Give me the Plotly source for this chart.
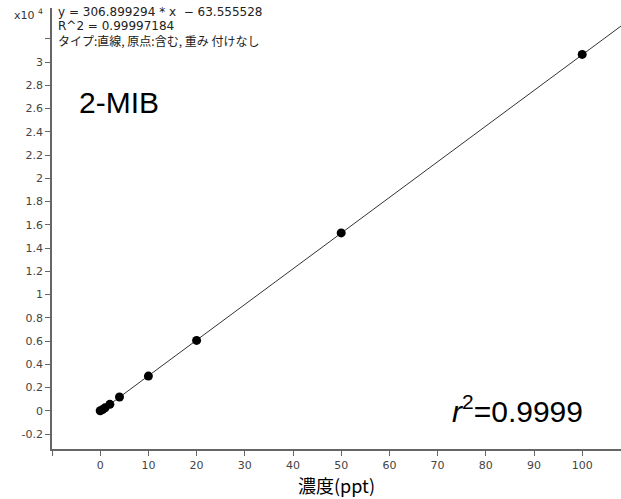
import plotly.graph_objects as go

# calibration data (concentration ppt, response x10^4)
conc = [0, 0.5, 1, 2, 4, 10, 20, 50, 100]
resp = [0.0, 0.010, 0.025, 0.055, 0.118, 0.298, 0.605, 1.530, 3.066]

fit_x = [0, 110]
fit_y = [-0.0064, 3.3695]

x_ticks = [0, 10, 20, 30, 40, 50, 60, 70, 80, 90, 100]
x_tick_text = ["0", "10", "20", "30", "40", "50", "60", "70", "80", "90", "100"]
x_unlabeled = [-10]
y_ticks = [-0.2, 0, 0.2, 0.4, 0.6, 0.8, 1, 1.2, 1.4, 1.6, 1.8, 2, 2.2, 2.4, 2.6, 2.8, 3]
y_tick_text = ["-0.2", "0", "0.2", "0.4", "0.6", "0.8", "1", "1.2", "1.4", "1.6", "1.8",
               "2", "2.2", "2.4", "2.6", "2.8", "3"]
y_unlabeled = [3.2]

eq_lines = ["y = 306.899294 * x  − 63.555528", "R^2 = 0.99997184", "タイプ:直線, 原点:含む, 重み 付けなし"]

fig = go.Figure()
fig.add_trace(go.Scatter(x=fit_x, y=fit_y, mode="lines",
                         line=dict(color="#333333", width=1), showlegend=False, hoverinfo="skip"))
fig.add_trace(go.Scatter(x=conc, y=resp, mode="markers",
                         marker=dict(color="black", size=9), showlegend=False))

fig.update_layout(
    width=621, height=499,
    margin=dict(l=52, r=0, t=8, b=50),
    paper_bgcolor="white", plot_bgcolor="white",
    font=dict(family="DejaVu Sans, sans-serif", size=11, color="#444444"),
    xaxis=dict(range=[-10, 108.05], tickvals=x_ticks, ticktext=x_tick_text,
               showgrid=False, zeroline=False, showline=True, linecolor="#666666", linewidth=1.5,
               ticks="outside", ticklen=5, tickcolor="#666666",
               minor=dict(tickvals=x_unlabeled, ticks="outside", ticklen=5, tickcolor="#666666",
                          showgrid=False),
               title=dict(text="濃度(ppt)", font=dict(family="Noto Sans CJK JP", size=18, color="black"),
                          standoff=4)),
    yaxis=dict(range=[-0.329, 3.465], tickvals=y_ticks, ticktext=y_tick_text,
               showgrid=False, zeroline=False, showline=True, linecolor="#666666", linewidth=1.5,
               ticks="outside", ticklen=5, tickcolor="#666666",
               minor=dict(tickvals=y_unlabeled, ticks="outside", ticklen=5, tickcolor="#666666",
                          showgrid=False)),
)

ann_fonts = [dict(family="DejaVu Sans", size=12, color="#222222"),
             dict(family="DejaVu Sans", size=12, color="#222222"),
             dict(family="Noto Sans CJK JP", size=12, color="#222222")]
for i, t in enumerate(eq_lines):
    fig.add_annotation(xref="paper", yref="paper", x=0.008, y=1.0, yshift=-4 - 14 * i,
                       text=t, showarrow=False, xanchor="left", yanchor="middle", font=ann_fonts[i],
                       borderpad=0)

fig.add_annotation(xref="paper", yref="paper", x=-0.012, y=1.0, yshift=-6, text="x10 <sup>4</sup>",
                   showarrow=False, xanchor="right", yanchor="middle",
                   font=dict(family="DejaVu Sans", size=11, color="#333333"))

fig.add_annotation(xref="paper", yref="paper", x=0.044, y=0.785, text="2-MIB", showarrow=False,
                   xanchor="left", yanchor="middle",
                   font=dict(family="Liberation Sans, Arial", size=30, color="black"))

fig.add_annotation(xref="paper", yref="paper", x=0.937, y=0.09, text="<i>r</i><sup>2</sup>=0.9999",
                   showarrow=False, xanchor="right", yanchor="middle",
                   font=dict(family="Liberation Sans, Arial", size=30, color="black"))

fig.write_html("out.html", config={"displayModeBar": False},
               post_script="document.body.style.margin='0';")
